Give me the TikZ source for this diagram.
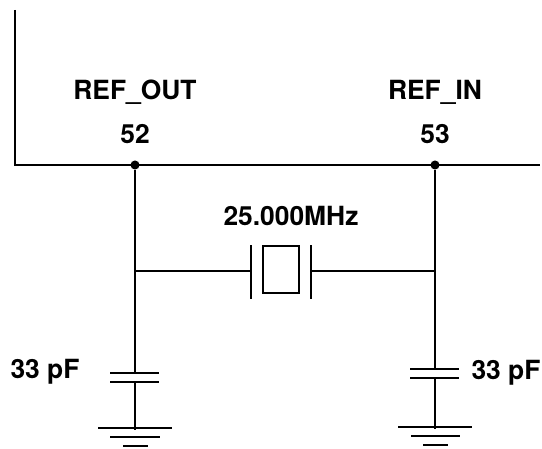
\documentclass[tikz,border=0pt]{standalone}
\usepackage{fontspec}
\setmainfont{TeX Gyre Heros}
\tikzset{
	wire/.style={line width=1.5pt},
	thin wire/.style={line width=0.9pt},
	junction/.style={circle,fill=black,inner sep=0pt,minimum size=6.8pt},
	label text/.style={font=\fontsize{19.8}{23}\selectfont\bfseries,inner sep=0pt}
}
\begin{document}
	\begin{tikzpicture}[x=0.75pt,y=-0.75pt]
		\useasboundingbox (0,0) rectangle (542,449);

		\coordinate (top) at (15,10);
		\coordinate (corner) at (15,165);
		\coordinate (end) at (540,165);
		\node[junction] (pin52) at (135,165) {};
		\node[junction] (pin53) at (435,165) {};
		\draw[wire] (top) -- (corner) -- (end);

		\node[label text] (refout) at (135,92) {REF\_OUT};
		\node[label text] (refin) at (435,92) {REF\_IN};
		\node[label text] (num52) at (135,134) {52};
		\node[label text] (num53) at (435,134) {53};
		\node[label text] (freq) at (291,216) {25.000MHz};
		\node[label text] (capleft) at (45,372) {33 pF};
		\node[label text] (capright) at (506,373) {33 pF};

		% crystal
		\coordinate (tapleft) at (135,271);
		\coordinate (tapright) at (435,271);
		\coordinate (xtalleft) at (251,271);
		\coordinate (xtalright) at (311,271);
		\draw[wire] (tapleft) -- (xtalleft);
		\draw[wire] (xtalright) -- (tapright);
		\draw[wire] (251,245) -- (251,299);
		\draw[wire] (311,245) -- (311,299);
		\draw[wire] (263,246) rectangle (299,293);

		% left cap
		\coordinate (capLtop) at (135,373);
		\coordinate (capLbot) at (135,382);
		\coordinate (gndL) at (135,430);
		\draw[wire] (pin52) -- (capLtop);
		\draw[wire] (capLbot) -- (gndL);
		\draw[thin wire] (110,373) -- (159,373);
		\draw[thin wire] (110,382) -- (159,382);
		\draw[thin wire] (98,428) -- (172,428);
		\draw[thin wire] (110,437) -- (160,437);
		\draw[thin wire] (123,446) -- (148,446);

		% right cap
		\coordinate (capRtop) at (435,369);
		\coordinate (capRbot) at (435,378);
		\coordinate (gndR) at (435,429);
		\draw[wire] (pin53) -- (capRtop);
		\draw[wire] (capRbot) -- (gndR);
		\draw[thin wire] (410,369) -- (459,369);
		\draw[thin wire] (410,378) -- (459,378);
		\draw[thin wire] (398,427) -- (472,427);
		\draw[thin wire] (411,436) -- (460,436);
		\draw[thin wire] (423,445) -- (448,445);
	\end{tikzpicture}
\end{document}
